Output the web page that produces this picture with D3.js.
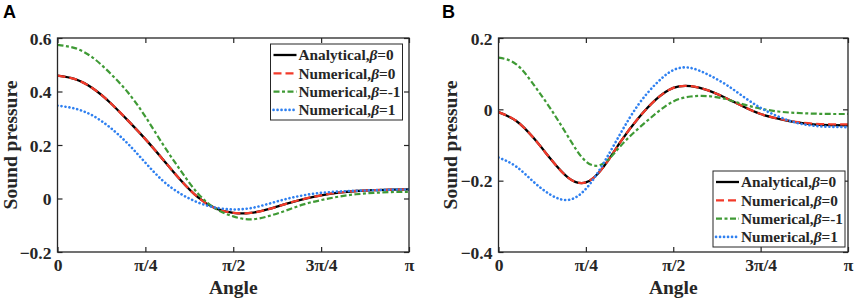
<!DOCTYPE html>
<html>
<head>
<meta charset="utf-8">
<script src="https://cdn.jsdelivr.net/npm/d3@7"></script>
<style>
  body { margin: 0; background: #fff; }
  text { font-family: "Times New Roman", "Liberation Serif", serif; font-weight: bold; fill: #262626; }
</style>
</head>
<body>
<svg id="mainsvg" width="858" height="304"></svg>
<script>
// angle grid, in units of pi
const angles = [0, 0.05, 0.1, 0.15, 0.2, 0.25, 0.3, 0.35, 0.4, 0.45, 0.5,
  0.55, 0.6, 0.65, 0.7, 0.75, 0.8, 0.85, 0.9, 0.95, 1];

// panel A
const aAnalytic0 = [0.459, 0.446, 0.412, 0.358, 0.292, 0.222, 0.146, 0.069, 0.004, -0.037, -0.054,
  -0.054, -0.040, -0.020, -0.002, 0.012, 0.022, 0.028, 0.031, 0.033, 0.034];
const aNumeric0 = [0.459, 0.446, 0.412, 0.358, 0.292, 0.222, 0.146, 0.069, 0.004, -0.037, -0.054,
  -0.054, -0.040, -0.020, -0.002, 0.012, 0.022, 0.028, 0.031, 0.033, 0.034];
const aNumericM1 = [0.574, 0.562, 0.527, 0.468, 0.397, 0.306, 0.202, 0.105, 0.018, -0.038, -0.067,
  -0.078, -0.066, -0.045, -0.022, -0.006, 0.007, 0.016, 0.021, 0.024, 0.025];
const aNumericP1 = [0.347, 0.336, 0.310, 0.265, 0.205, 0.134, 0.066, 0.018, -0.015, -0.034, -0.041,
  -0.036, -0.020, -0.002, 0.012, 0.021, 0.026, 0.029, 0.031, 0.033, 0.034];

// panel B
const bAnalytic0 = [-0.008, -0.032, -0.080, -0.140, -0.192, -0.205, -0.162, -0.090, -0.025, 0.027, 0.060,
  0.065, 0.053, 0.032, 0.008, -0.013, -0.026, -0.036, -0.042, -0.044, -0.045];
const bNumeric0 = [-0.008, -0.032, -0.080, -0.140, -0.192, -0.205, -0.162, -0.090, -0.025, 0.027, 0.060,
  0.065, 0.053, 0.032, 0.008, -0.013, -0.026, -0.035, -0.040, -0.042, -0.042];
const bNumericM1 = [0.145, 0.127, 0.070, 0.000, -0.078, -0.146, -0.152, -0.102, -0.054, -0.012, 0.022,
  0.036, 0.037, 0.029, 0.014, 0.002, -0.006, -0.010, -0.012, -0.013, -0.013];
const bNumericP1 = [-0.135, -0.160, -0.203, -0.240, -0.254, -0.223, -0.152, -0.066, 0.013, 0.071, 0.110,
  0.116, 0.097, 0.070, 0.036, 0.004, -0.020, -0.037, -0.046, -0.049, -0.050];

const seriesNames = ['Analytical,', 'Numerical,', 'Numerical,', 'Numerical,'];
const betaLabels = ['=0', '=0', '=-1', '=1'];
const xTicks = [0, 0.25, 0.5, 0.75, 1];
const xTickLabels = ['0', 'π/4', 'π/2', '3π/4', 'π'];

const styles = [
  { color: '#000000', dash: null, width: 2.3, cap: 'butt' },
  { color: '#f23a2a', dash: '8,4', width: 2.3, cap: 'butt' },
  { color: '#3f9a35', dash: '6,2.5,3,2.5', width: 2.2, cap: 'butt' },
  { color: '#2f80f0', dash: '0.1,3.9', width: 2.6, cap: 'round' }
];

const svg = d3.select('#mainsvg');

function panel(opts) {
  const { left, right, top, bottom, yDomain, yTicks, series, letter, letterX, labelX, legend } = opts;
  const x = d3.scaleLinear().domain([0, Math.PI]).range([left, right]);
  const y = d3.scaleLinear().domain(yDomain).range([bottom, top]);
  const g = svg.append('g');

  const line = d3.line()
    .x((d, i) => x(angles[i] * Math.PI))
    .y(d => y(d))
    .curve(d3.curveNatural);

  const clipId = 'clip' + letter;
  g.append('clipPath').attr('id', clipId)
    .append('rect').attr('x', left).attr('y', top).attr('width', right - left).attr('height', bottom - top);

  g.append('g').attr('clip-path', `url(#${clipId})`)
    .selectAll('path').data(series).join('path')
    .attr('d', d => line(d))
    .attr('fill', 'none')
    .attr('stroke', (d, i) => styles[i].color)
    .attr('stroke-width', (d, i) => styles[i].width)
    .attr('stroke-dasharray', (d, i) => styles[i].dash)
    .attr('stroke-linecap', (d, i) => styles[i].cap);

  // axes, ticks pointing inward
  const xb = g.append('g').attr('transform', `translate(0,${bottom})`)
    .call(d3.axisBottom(x).tickValues(xTicks.map(t => t * Math.PI))
      .tickFormat((d, i) => xTickLabels[i]).tickSizeInner(-5).tickSizeOuter(0).tickPadding(5));
  const xt = g.append('g').attr('transform', `translate(0,${top})`)
    .call(d3.axisTop(x).tickValues(xTicks.map(t => t * Math.PI))
      .tickFormat('').tickSizeInner(-5).tickSizeOuter(0));
  const yl = g.append('g').attr('transform', `translate(${left},0)`)
    .call(d3.axisLeft(y).tickValues(yTicks)
      .tickFormat(d => d === 0 ? '0' : d3.format('.1f')(d)).tickSizeInner(-5).tickSizeOuter(0).tickPadding(6));
  const yr = g.append('g').attr('transform', `translate(${right},0)`)
    .call(d3.axisRight(y).tickValues(yTicks).tickFormat('').tickSizeInner(-5).tickSizeOuter(0));
  [xb, xt, yl, yr].forEach(a => {
    a.select('.domain').remove();
    a.selectAll('line').attr('stroke', '#262626').attr('stroke-width', 1.2);
    a.selectAll('text').attr('font-family', '"Times New Roman", "Liberation Serif", serif')
      .attr('font-weight', 'bold').attr('font-size', 17.5).attr('fill', '#262626');
  });
  xb.selectAll('text').attr('dy', '0.8em');
  yl.selectAll('text').attr('dy', '0.35em');

  g.append('rect')
    .attr('x', left).attr('y', top).attr('width', right - left).attr('height', bottom - top)
    .attr('fill', 'none').attr('stroke', '#262626').attr('stroke-width', 1.3);

  g.append('text').attr('x', (left + right) / 2).attr('y', 294)
    .attr('text-anchor', 'middle').attr('font-size', 19.5).text('Angle');
  g.append('text')
    .attr('transform', `translate(${labelX},${(top + bottom) / 2}) rotate(-90)`)
    .attr('text-anchor', 'middle').attr('font-size', 19.5).text('Sound pressure');

  g.append('text').attr('x', letterX).attr('y', 18)
    .style('font-family', 'Arial, "Liberation Sans", sans-serif')
    .attr('font-size', 18).style('fill', '#000').text(letter);

  // legend
  const lg = g.append('g').attr('transform', `translate(${legend.x},${legend.y})`);
  lg.append('rect').attr('width', 132).attr('height', 76)
    .attr('fill', '#fff').attr('stroke', '#262626').attr('stroke-width', 1);
  const rows = lg.selectAll('.row').data(seriesNames).join('g')
    .attr('class', 'row')
    .attr('transform', (d, i) => `translate(0,${11 + i * 18.3})`);
  rows.append('line').attr('x1', 3).attr('x2', 26)
    .attr('stroke', (d, i) => styles[i].color)
    .attr('stroke-width', (d, i) => styles[i].width)
    .attr('stroke-dasharray', (d, i) => styles[i].dash)
    .attr('stroke-linecap', (d, i) => styles[i].cap);
  const t = rows.append('text').attr('x', 28).attr('dy', '0.35em').attr('font-size', 15.3);
  t.append('tspan').text(d => d);
  t.append('tspan').attr('font-style', 'italic').text('β');
  t.append('tspan').text((d, i) => betaLabels[i]);
}

panel({
  left: 57.5, right: 409, top: 38, bottom: 252,
  yDomain: [-0.2, 0.6], yTicks: [-0.2, 0, 0.2, 0.4, 0.6],
  series: [aAnalytic0, aNumeric0, aNumericM1, aNumericP1],
  letter: 'A', letterX: 3, labelX: 17,
  legend: { x: 270.5, y: 44 }
});

panel({
  left: 498.5, right: 848, top: 38, bottom: 252,
  yDomain: [-0.4, 0.2], yTicks: [-0.4, -0.2, 0, 0.2],
  series: [bAnalytic0, bNumeric0, bNumericM1, bNumericP1],
  letter: 'B', letterX: 442, labelX: 457,
  legend: { x: 713, y: 171 }
});
</script>
</body>
</html>
